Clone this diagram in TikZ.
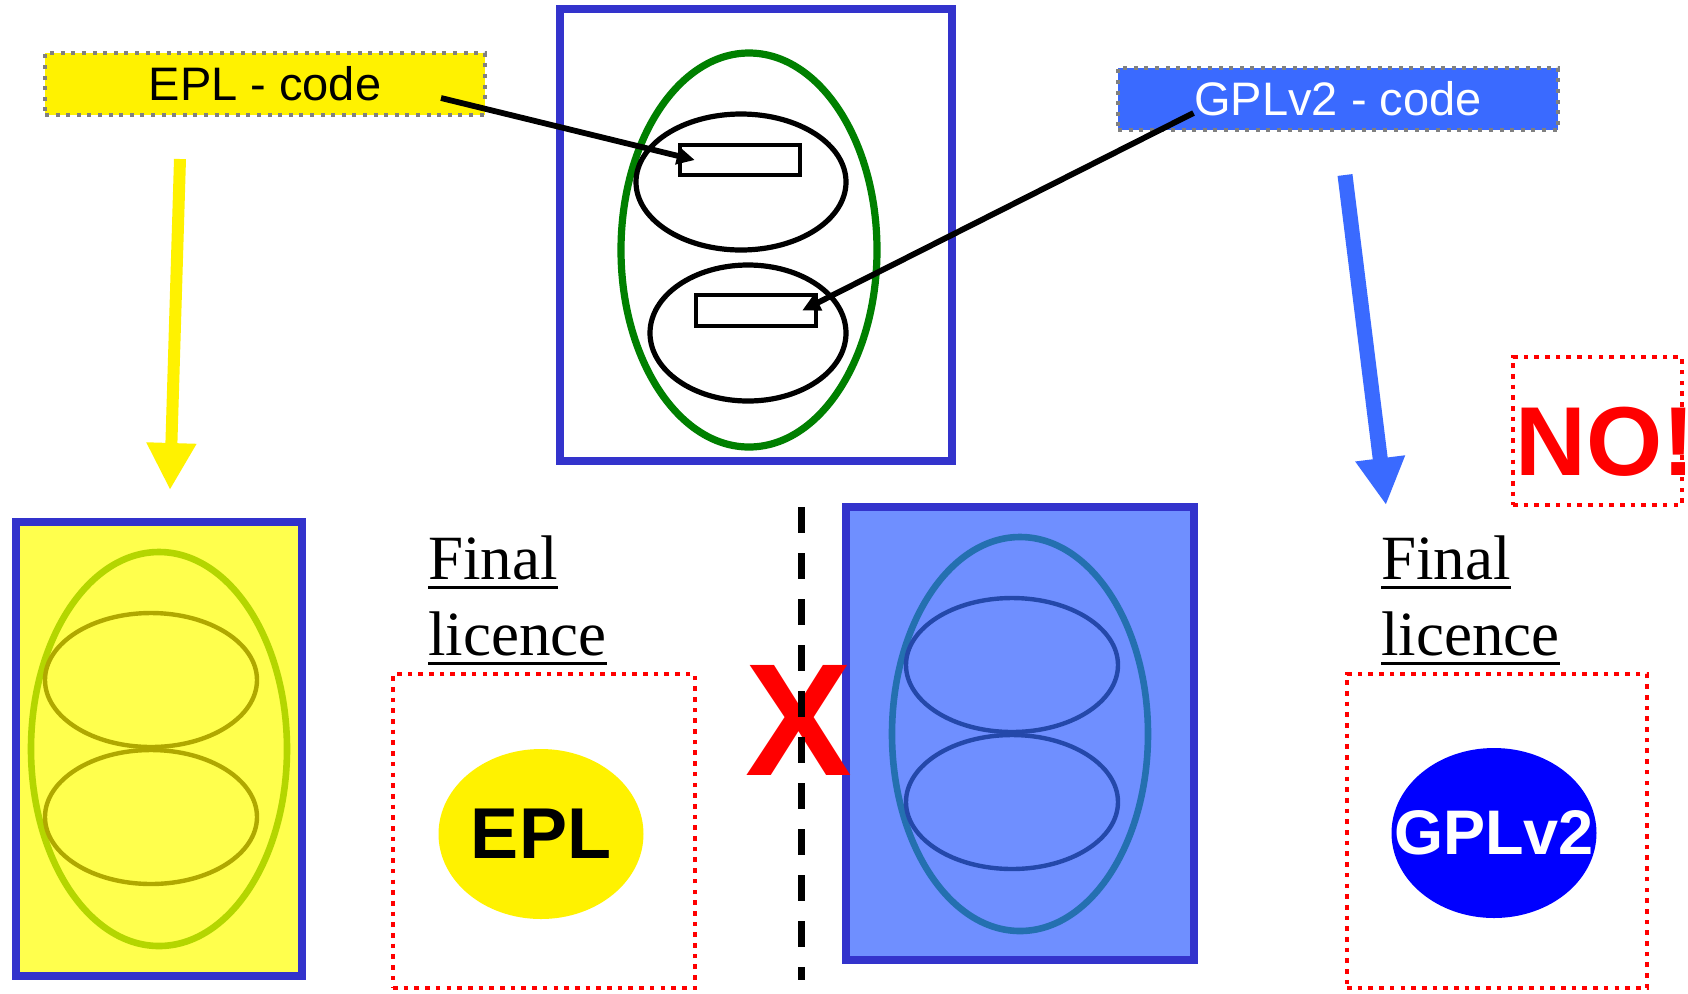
\documentclass[tikz,border=0pt]{standalone}
\usepackage{fontspec}
\setmainfont{Liberation Serif}
\newfontfamily\arial{Liberation Sans}
\usetikzlibrary{shapes.geometric,arrows.meta}
\definecolor{frameblue}{HTML}{3333CC}
\definecolor{codeblue}{HTML}{3A6AFF}
\definecolor{ringgreen}{HTML}{008000}
\definecolor{paleyellow}{HTML}{FFFF4D}
\definecolor{paleblue}{HTML}{6F8FFF}
\definecolor{limering}{HTML}{B4D600}
\definecolor{olivering}{HTML}{B0A800}
\definecolor{tealring}{HTML}{2470B0}
\definecolor{navyring}{HTML}{2448AA}
\tikzset{
  frame/.style={rectangle, draw=frameblue, line width=4pt, inner sep=0pt},
  ring/.style={ellipse, inner sep=0pt, minimum width=128pt, minimum height=197pt, line width=3.3pt},
  cell/.style={ellipse, inner sep=0pt, minimum width=106pt, minimum height=67pt, line width=2.2pt},
  snippet/.style={draw, line width=2.2pt, inner sep=0pt, minimum width=60pt, minimum height=15pt},
  codebox/.style={draw=gray, line width=2pt, dash pattern=on 2pt off 3.3pt, inner sep=0pt,
    minimum width=220pt, minimum height=31pt, font=\arial\fontsize{23.5}{27}\selectfont},
  licbox/.style={draw=red, line width=2.3pt, dash pattern=on 2.3pt off 3.05pt, inner sep=0pt},
  licoval/.style={ellipse, inner sep=0pt, minimum width=102.5pt, minimum height=85pt},
  final/.style={anchor=base west, inner sep=0pt, font=\fontsize{31.5}{38}\selectfont},
  ptr/.style={line width=2.9pt, -{Triangle[length=9pt,width=8.5pt]}},
  bigptr/.style={-{Triangle[length=23.5pt,width=23.5pt]}}
}
\begin{document}
\begin{tikzpicture}[x=0.5pt, y=-0.5pt]
    \path[fill=white, use as bounding box] (0,0) rectangle (1688,993);
    % the combined work, before the licence is chosen
    \node[frame, minimum width=196pt, minimum height=226pt] (topframe) at (755.5,234.5) {};
    \node[ring, draw=ringgreen, line width=3.6pt] (toptree) at (749,250) {};
    \node[cell, draw=black, line width=2.6pt, minimum width=105pt, minimum height=68pt] (topcellA) at (741,182) {};
    \node[cell, draw=black, line width=2.6pt, minimum width=98pt, minimum height=68pt] (topcellB) at (748,333) {};
    \node[snippet] (snipA) at (740,160) {};
    \node[snippet, minimum height=15.5pt] (snipB) at (756,310.5) {};

    \node[codebox, fill=yellow] (eplcode) at (265,84) {EPL - code};
    \node[codebox, fill=codeblue, text=white] (gplcode) at (1338,99) {GPLv2 - code};
    \coordinate (eplfrom) at ([xshift=-23pt,yshift=-7pt]eplcode.east);
    \coordinate (gplfrom) at ([xshift=38.75pt,yshift=-7pt]gplcode.west);
    \draw[ptr] (eplfrom) -- ([xshift=8.5pt]snipA.west);
    \draw[ptr] (gplfrom) -- ([xshift=-8pt]snipB.east);

    % the two outcomes
    \coordinate (eplgo) at (180,159);
    \coordinate (eplland) at (170,490);
    \coordinate (gplgo) at (1345,175);
    \coordinate (gplland) at (1386,505);
    \draw[bigptr, line width=6pt, yellow] (eplgo) -- (eplland);
    \draw[bigptr, line width=7.5pt, codeblue] (gplgo) -- (gplland);

    \node[frame, fill=paleyellow, minimum width=143pt, minimum height=227pt] (eplframe) at (159,749) {};
    \node[ring, draw=limering] (epltree) at (159,749) {};
    \foreach \y/\n in {680/A,817/B}
        \node[cell, draw=olivering] (eplcell\n) at (151,\y) {};

    \node[frame, fill=paleblue, minimum width=174pt, minimum height=226.5pt] (gplframe) at (1020,733.5) {};
    \node[ring, draw=tealring] (gpltree) at (1020,734) {};
    \foreach \y/\n in {665/A,802/B}
        \node[cell, draw=navyring] (gplcell\n) at (1012,\y) {};

    \node[final] (finalA) at (428,579) {Final};
    \node[final] (licenceA) at (428,655) {licence};
    \node[final] (finalB) at (1381,579) {Final};
    \node[final] (licenceB) at (1381,655) {licence};
    \foreach \w in {finalA,licenceA,finalB,licenceB}
        \draw[line width=1.5pt] ([yshift=-4.25pt]\w.base west) -- ([yshift=-4.25pt]\w.base east);

    \node[licbox, minimum width=151pt, minimum height=157pt] (eplbox) at (544,831) {};
    \node[licoval, fill=yellow] (eploval) at (541,834) {};
    \node[inner sep=0pt, font=\arial\bfseries\fontsize{36}{40}\selectfont] (epltag) at (eploval) {EPL};
    \node[licbox, minimum width=150pt, minimum height=157pt] (gplbox) at (1497,831) {};
    \node[licoval, fill=blue] (gploval) at (1494,833) {};
    \node[inner sep=0pt, text=white, font=\arial\bfseries\fontsize{31.5}{34}\selectfont] (gpltag) at (gploval) {GPLv2};

    \node[licbox, minimum width=84.5pt, minimum height=74pt] (nobox) at (1597.5,431) {};
    \node[anchor=base west, inner sep=0pt, text=red, font=\arial\bfseries\fontsize{49}{50}\selectfont] (nosign) at (1515,475) {NO!};

    % the cut between the two
    \node[inner sep=0pt, text=red, font=\arial\bfseries\fontsize{80}{80}\selectfont] (cross) at (799,720.5) {X};
    \coordinate (cuttop) at (801,507);
    \coordinate (cutbot) at (801,980);
    \draw[line width=3.5pt, dash pattern=on 13pt off 10pt] (cuttop) -- (cutbot);
\end{tikzpicture}
\end{document}
